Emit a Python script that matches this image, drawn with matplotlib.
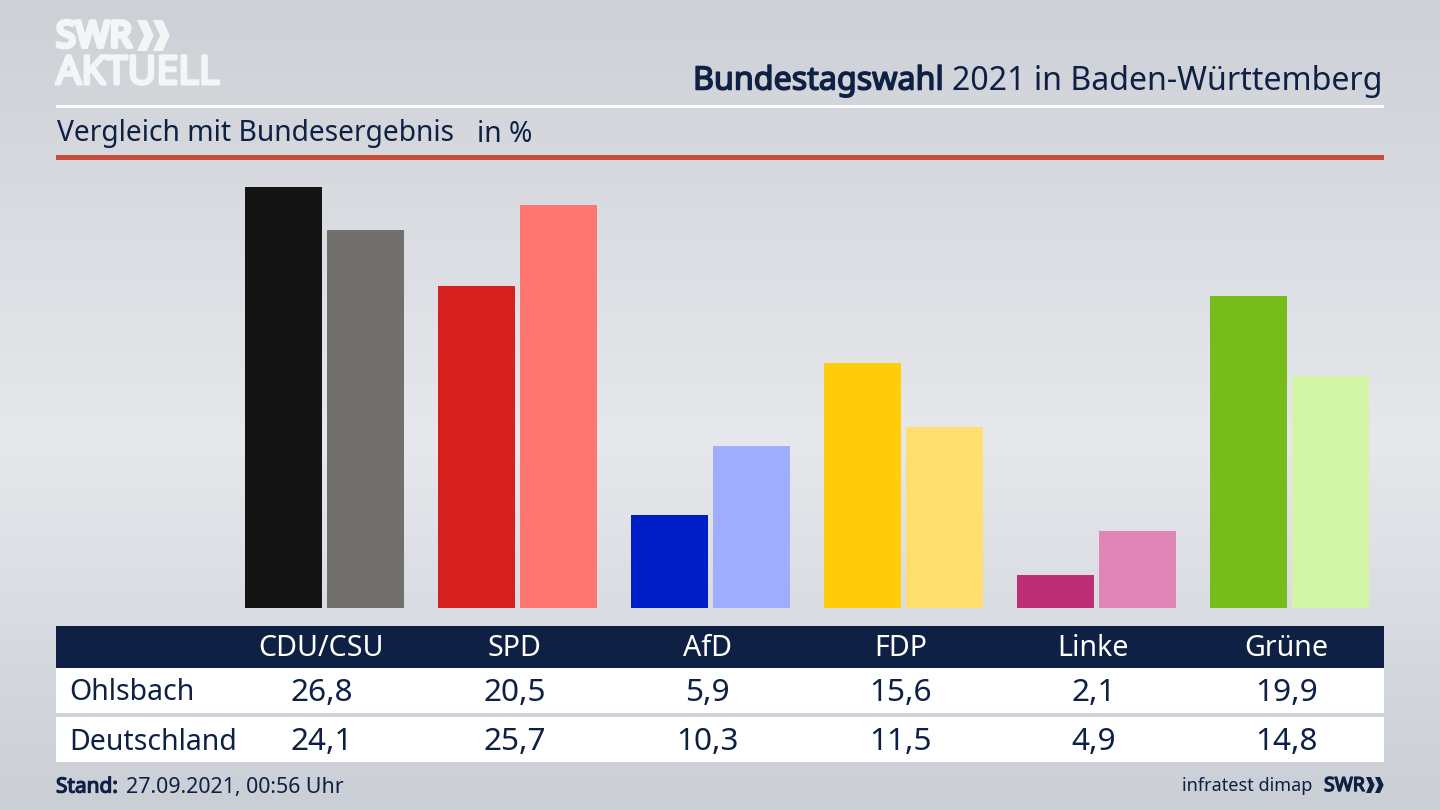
import numpy as np
from matplotlib import pyplot as plt
from matplotlib.patches import Polygon, Rectangle
from matplotlib import patheffects as pe

plt.rcParams['font.family'] = ['Noto Sans', 'DejaVu Sans']

parties = ['CDU/CSU', 'SPD', 'AfD', 'FDP', 'Linke', 'Grüne']
ohlsbach = [26.8, 20.5, 5.9, 15.6, 2.1, 19.9]
deutschland = [24.1, 25.7, 10.3, 11.5, 4.9, 14.8]
ohlsbach_labels = ['26,8', '20,5', '5,9', '15,6', '2,1', '19,9']
deutschland_labels = ['24,1', '25,7', '10,3', '11,5', '4,9', '14,8']
colors_local = ['#141414', '#d71f1d', '#001ec8', '#ffcd0a', '#bc2f76', '#78bc1b']
colors_bund = ['#71706c', '#ff7570', '#9fadff', '#ffdf70', '#e086b6', '#d3f5a8']

NAVY = '#0e2145'
LOGO = '#f4f5f6'
W, H = 1440, 810

fig = plt.figure(figsize=(14.4, 8.1), dpi=100)


def fat(col, lw):
    # Noto Sans hat hier keinen echten bold-schnitt, also mit kontur verdicken
    return [pe.withStroke(linewidth=lw, foreground=col)]


# hintergrund + alles was nicht daten ist, in pixeln
bg = fig.add_axes([0, 0, 1, 1])
bg.set_xlim(0, W)
bg.set_ylim(H, 0)
bg.axis('off')
stops_y = [0, 440, 810]
stops_c = np.array([[205, 208, 214], [230, 232, 236], [202, 206, 213]]) / 255
yy = np.arange(H)
grad = np.stack([np.interp(yy, stops_y, stops_c[:, i]) for i in range(3)], axis=1)[:, None, :]
bg.imshow(grad, extent=(0, W, H, 0), aspect='auto', zorder=0)

# linien oben
bg.add_patch(Rectangle((56, 104.5), 1328, 3, color='white', lw=0, zorder=1))
bg.add_patch(Rectangle((56, 155), 1328, 5, color='#c84c3a', lw=0, zorder=1))

# logo
bg.text(56, 38, 'SWR', fontsize=26, color=LOGO, va='center', ha='left', zorder=2,
        path_effects=fat(LOGO, 3.0))
bg.text(56, 74, 'AKTUELL', fontsize=28.4, color=LOGO, va='center', ha='left', zorder=2,
        path_effects=fat(LOGO, 2.2))
for x0, size, cy, col, step in [(137, 15.5, 35.5, LOGO, 16), (1366, 8, 785, NAVY, 9)]:
    for k in range(2):
        x = x0 + k * step
        bg.add_patch(Polygon([[x, cy - size], [x + size * 0.62, cy - size], [x + size * 1.08, cy],
                              [x + size * 0.62, cy + size], [x, cy + size], [x + size * 0.46, cy]],
                             closed=True, color=col, lw=0, zorder=2))

# titel
bg.text(693, 81, 'Bundestagswahl', fontsize=23.2, color=NAVY, va='center', ha='left', zorder=2,
        path_effects=fat(NAVY, 1.1))
bg.text(1383, 81, '2021 in Baden-Württemberg', fontsize=23.1, color=NAVY, va='center', ha='right', zorder=2)
bg.text(57, 134, 'Vergleich mit Bundesergebnis', fontsize=20.3, color=NAVY, va='center', ha='left', zorder=2)
bg.text(477, 134, 'in %', fontsize=20.3, color=NAVY, va='center', ha='left', zorder=2)

# tabelle
bg.add_patch(Rectangle((56, 626), 1328, 42, color=NAVY, lw=0, zorder=1))
bg.add_patch(Rectangle((56, 668), 1328, 45, color='white', lw=0, zorder=1))
bg.add_patch(Rectangle((56, 717), 1328, 45, color='white', lw=0, zorder=1))
bg.text(69.5, 693, 'Ohlsbach', fontsize=20.5, color=NAVY, va='center', ha='left', zorder=2)
bg.text(69.5, 742, 'Deutschland', fontsize=20.5, color=NAVY, va='center', ha='left', zorder=2)

# fusszeile
bg.text(56, 787, 'Stand:', fontsize=15, color=NAVY, va='center', ha='left', zorder=2,
        path_effects=fat(NAVY, 0.9))
bg.text(126, 787, '27.09.2021, 00:56 Uhr', fontsize=15.4, color=NAVY, va='center', ha='left', zorder=2)
bg.text(1312, 786, 'infratest dimap', fontsize=13, color=NAVY, va='center', ha='right', zorder=2)
bg.text(1324, 786, 'SWR', fontsize=14, color=NAVY, va='center', ha='left', zorder=2,
        path_effects=fat(NAVY, 1.0))

# balken
ax = fig.add_axes([0, (H - 608) / H, 1, 608 / H])
ax.patch.set_alpha(0)
ax.axis('off')
center0, period = 324.5, 193.0
ax.set_xlim((0 - center0) / period, (W - center0) / period)
ax.set_ylim(0, 608 / 15.7)
x = np.arange(len(parties))
ax.bar(x - 0.2124, ohlsbach, width=0.397, color=colors_local)
ax.bar(x + 0.2124, deutschland, width=0.397, color=colors_bund)

# tabellenwerte an den balkengruppen ausgerichtet
for i, name in enumerate(parties):
    px = center0 + i * period - 3
    bg.text(px, 649, name, fontsize=20.6, color='white', va='center', ha='center', zorder=2)
    bg.text(px, 693, ohlsbach_labels[i], fontsize=22.7, color=NAVY, va='center', ha='center', zorder=2)
    bg.text(px, 742, deutschland_labels[i], fontsize=22.7, color=NAVY, va='center', ha='center', zorder=2)

fig.savefig('out.png', dpi=100)
